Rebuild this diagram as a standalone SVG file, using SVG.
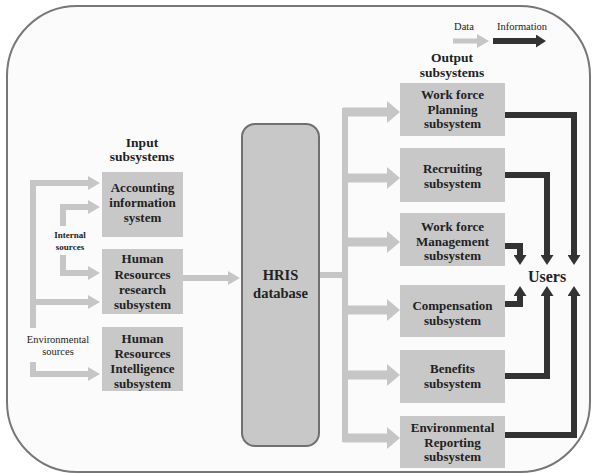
<svg xmlns="http://www.w3.org/2000/svg" width="595" height="474" viewBox="0 0 595 474">
<style>
.t{font-family:"Liberation Serif","Times New Roman",serif;font-weight:bold;font-size:13px;fill:#222;text-anchor:middle}
.h{font-size:13.5px}
.s{font-size:9px}
.e{font-size:10.5px;font-weight:normal}
.lg{font-size:10.5px;font-weight:normal}
.box{fill:#c8c8c8}
.la{fill:none;stroke:#c6c6c6;stroke-width:6;stroke-linejoin:miter}
.lb{fill:none;stroke:#c6c6c6;stroke-width:9}
.da{fill:none;stroke:#333;stroke-width:6;stroke-linejoin:miter}
</style>
<defs>
<marker id="ls" markerUnits="userSpaceOnUse" markerWidth="12" markerHeight="14" refX="0" refY="7" orient="auto"><path d="M0,0 L12,7 L0,14 z" fill="#c6c6c6"/></marker>
<marker id="lb" markerUnits="userSpaceOnUse" markerWidth="13" markerHeight="22" refX="0" refY="11" orient="auto"><path d="M0,0 L13,11 L0,22 z" fill="#c6c6c6"/></marker>
<marker id="dk" markerUnits="userSpaceOnUse" markerWidth="12" markerHeight="13" refX="0" refY="6.5" orient="auto"><path d="M0,0 L10,6.5 L0,13 z" fill="#333"/></marker>
</defs>
<rect x="7" y="6" width="583" height="466" rx="70" ry="70" fill="#fbfbfb" stroke="#777" stroke-width="2"/>

<g id="legend">
<text class="t lg" x="464" y="30">Data</text>
<text class="t lg" x="522" y="30">Information</text>
<path d="M453,41 H477" stroke="#c6c6c6" stroke-width="5" fill="none" marker-end="url(#ls)"/>
<path d="M493,41 H536" stroke="#333" stroke-width="6" fill="none" marker-end="url(#dk)"/>
</g>

<g id="labels">
<text class="t h" x="142" y="147">Input</text>
<text class="t h" x="142" y="161">subsystems</text>
<text class="t h" x="452" y="62">Output</text>
<text class="t h" x="452" y="77">subsystems</text>
<text class="t s" x="70" y="238">Internal</text>
<text class="t s" x="70" y="250">sources</text>
<text class="t e" x="58" y="343">Environmental</text>
<text class="t e" x="58" y="355">sources</text>
</g>

<g id="connectors">
<path class="la" d="M33,328 V183 H88" marker-end="url(#ls)"/>
<path class="la" d="M33,302 H88" marker-end="url(#ls)"/>
<path class="la" d="M63,226 V207 H88" marker-end="url(#ls)"/>
<path class="la" d="M63,255 V273 H88" marker-end="url(#ls)"/>
<path class="la" d="M33,362 V374 H88" marker-end="url(#ls)"/>
<path class="la" d="M183,278 H228" stroke-width="7" marker-end="url(#ls)"/>
<path class="la" d="M319,275 H345"/>
<path class="la" d="M345,108 V442"/>
<path class="lb" d="M343,112 H387" marker-end="url(#lb)"/>
<path class="lb" d="M343,178 H387" marker-end="url(#lb)"/>
<path class="lb" d="M343,242 H387" marker-end="url(#lb)"/>
<path class="lb" d="M343,310 H387" marker-end="url(#lb)"/>
<path class="lb" d="M343,375 H387" marker-end="url(#lb)"/>
<path class="lb" d="M343,438 H387" marker-end="url(#lb)"/>
<path class="da" d="M505,115 H574 V255" marker-end="url(#dk)"/>
<path class="da" d="M505,175 H547 V255" marker-end="url(#dk)"/>
<path class="da" d="M505,246 H520 V255" marker-end="url(#dk)"/>
<path class="da" d="M505,304 H520 V296" marker-end="url(#dk)"/>
<path class="da" d="M505,376 H547 V296" marker-end="url(#dk)"/>
<path class="da" d="M505,435 H574 V296" marker-end="url(#dk)"/>
</g>

<g id="accounting">
<rect class="box" x="102" y="172" width="81" height="65"/>
<text class="t" x="142.5" y="192">Accounting</text>
<text class="t" x="142.5" y="207">information</text>
<text class="t" x="142.5" y="222">system</text>
</g>
<g id="hr-research">
<rect class="box" x="102" y="249" width="81" height="65"/>
<text class="t" x="142.5" y="263">Human</text>
<text class="t" x="142.5" y="279">Resources</text>
<text class="t" x="142.5" y="294">research</text>
<text class="t" x="142.5" y="309">subsystem</text>
</g>
<g id="hr-intelligence">
<rect class="box" x="102" y="327" width="81" height="64"/>
<text class="t" x="142.5" y="343">Human</text>
<text class="t" x="142.5" y="358">Resources</text>
<text class="t" x="142.5" y="373">Intelligence</text>
<text class="t" x="142.5" y="388">subsystem</text>
</g>
<g id="hris">
<rect x="242" y="124" width="77" height="322" rx="13" ry="13" fill="#c8c8c8" stroke="#707070" stroke-width="2"/>
<text class="t" style="font-size:14.5px" x="280.5" y="280">HRIS</text>
<text class="t" style="font-size:14.5px" x="280.5" y="298">database</text>
</g>
<g id="planning">
<rect class="box" x="400" y="83" width="105" height="53"/>
<text class="t" x="452.5" y="99">Work force</text>
<text class="t" x="452.5" y="114">Planning</text>
<text class="t" x="452.5" y="128">subsystem</text>
</g>
<g id="recruiting">
<rect class="box" x="400" y="148" width="105" height="54"/>
<text class="t" x="452.5" y="173">Recruiting</text>
<text class="t" x="452.5" y="188">subsystem</text>
</g>
<g id="management">
<rect class="box" x="400" y="213" width="105" height="53"/>
<text class="t" x="452.5" y="231">Work force</text>
<text class="t" x="452.5" y="246">Management</text>
<text class="t" x="452.5" y="260">subsystem</text>
</g>
<g id="compensation">
<rect class="box" x="400" y="285" width="105" height="52"/>
<text class="t" x="452.5" y="310">Compensation</text>
<text class="t" x="452.5" y="325">subsystem</text>
</g>
<g id="benefits">
<rect class="box" x="400" y="350" width="105" height="53"/>
<text class="t" x="452.5" y="373">Benefits</text>
<text class="t" x="452.5" y="388">subsystem</text>
</g>
<g id="env-reporting">
<rect class="box" x="400" y="416" width="105" height="52"/>
<text class="t" x="452.5" y="432">Environmental</text>
<text class="t" x="452.5" y="447">Reporting</text>
<text class="t" x="452.5" y="461">subsystem</text>
</g>
<g id="users">
<text class="t" style="font-size:16px" x="547" y="282">Users</text>
</g>
</svg>
